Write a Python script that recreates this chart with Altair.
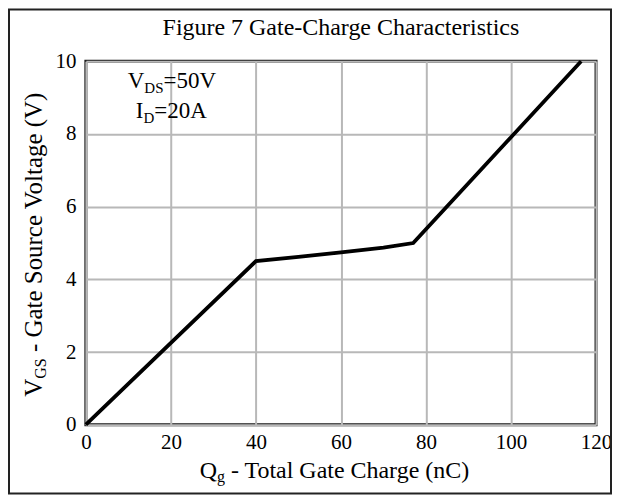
import altair as alt
import pandas as pd

# data
qg = [0, 40, 50, 60, 70, 77, 116.5]
vgs = [0, 4.5, 4.62, 4.74, 4.87, 5.0, 10]
x_ticks = [0, 20, 40, 60, 80, 100, 120]
y_ticks = [0, 2, 4, 6, 8, 10]
title_text = "Figure 7 Gate-Charge Characteristics"

W, H = 511, 364
FONT = "Liberation Serif"

df = pd.DataFrame({"Qg": qg, "VGS": vgs})

line = alt.Chart(df).mark_line(color="black", strokeWidth=3.8).encode(
    x=alt.X("Qg:Q", scale=alt.Scale(domain=[0, 120], nice=False),
            axis=alt.Axis(values=x_ticks, title=None, grid=True, ticks=False, domain=False,
                          labelFontSize=21, labelPadding=7, labelFont=FONT, labelColor="black",
                          gridColor="#b8b8b8", gridWidth=2, labelFlush=False)),
    y=alt.Y("VGS:Q", scale=alt.Scale(domain=[0, 10], nice=False),
            axis=alt.Axis(values=y_ticks, title=None, grid=True, ticks=False, domain=False,
                          labelFontSize=21, labelPadding=10, labelFont=FONT, labelColor="black",
                          gridColor="#b8b8b8", gridWidth=2, labelFlush=False)),
)


def txt(s, x, y, size, angle=0, align="left", baseline="alphabetic"):
    kw = dict(text=s, fontSize=size, font=FONT, color="black", align=align, baseline=baseline)
    if angle:
        kw["angle"] = angle
    return alt.Chart(pd.DataFrame({"t": [s]})).mark_text(**kw).encode(
        x=alt.value(x), y=alt.value(y))

layers = [line]

# chart title
layers.append(txt(title_text, W / 2, -26, 24, align="center"))

# annotation
layers.append(txt("V", 42, 27, 23))
layers.append(txt("DS", 42 + 16.6, 32, 15))
layers.append(txt("=50V", 42 + 16.6 + 19.2, 27, 23))
layers.append(txt("I", 50, 57, 23))
layers.append(txt("D", 50 + 7.7, 62, 15))
layers.append(txt("=20A", 50 + 7.7 + 10.8, 57, 23))

# x axis title
x0 = 253 - 139
layers.append(txt("Q", x0, 53 + H, 24))
layers.append(txt("g", x0 + 17.3, 57 + H, 16))
layers.append(txt("- Total Gate Charge (nC)", x0 + 17.3 + 8 + 6, 53 + H, 24))

# y axis title (rotated)
yb = 336
bx = -44
layers.append(txt("V", bx, yb, 25, angle=270))
layers.append(txt("GS", bx + 4, yb - 18.05, 16, angle=270))
layers.append(txt("- Gate Source Voltage (V)", bx, yb - 18.05 - 20.45 - 6.25, 25, angle=270))

# outer frame
frame = alt.Chart(pd.DataFrame({"f": [0]})).mark_rect(
    fillOpacity=0, stroke="#222222", strokeWidth=2).encode(
    x=alt.value(-77), x2=alt.value(W + 15), y=alt.value(-52), y2=alt.value(H + 69))
layers.append(frame)

chart = alt.layer(*layers).properties(
    width=W, height=H,
    autosize="none",
    padding={"left": 78, "top": 53, "right": 16, "bottom": 70},
).configure_view(stroke="#1a1a1a", strokeWidth=3)

chart.save("out.html", embed_options={"renderer": "svg", "actions": False})
